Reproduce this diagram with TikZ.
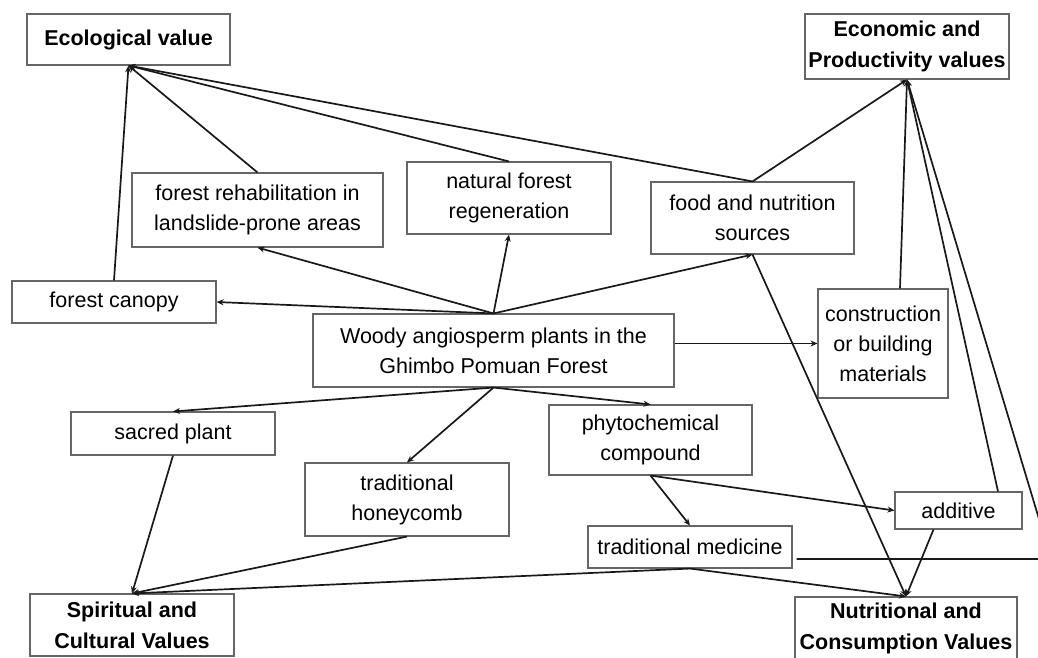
\documentclass[tikz,border=0pt]{standalone}
\usepackage{fontspec}
\setmainfont{Liberation Sans}
\usetikzlibrary{arrows.meta,calc}
\begin{document}
\begin{tikzpicture}[x=1pt,y=-1pt,
  box/.style={draw=black!60,line width=1.1pt,fill=white,align=center,inner sep=0pt,
    font=\fontsize{21.5}{30}\selectfont},
  hbox/.style={box,font=\fontsize{21.5}{31}\selectfont\bfseries},
  link/.style={line width=1.7pt,draw=black!90},
  arr/.style={link,-{Stealth[length=7pt,width=6pt]}}]
\useasboundingbox (0,0) rectangle (1038,657);
\clip (0,0) rectangle (1038,657);
% nodes
\node[hbox,minimum width=203pt,minimum height=51pt] (eco) at (128.5,39.5) {Ecological value};
\node[hbox,minimum width=204pt,minimum height=65pt] (econ) at (907,46.5) {Economic and\\Productivity values};
\node[box,minimum width=251pt,minimum height=74pt] (rehab) at (257.5,210) {forest rehabilitation in\\landslide-prone areas};
\node[box,minimum width=204pt,minimum height=72pt] (regen) at (509,198) {natural forest\\regeneration};
\node[box,minimum width=203pt,minimum height=72pt] (food) at (752.5,218) {food and nutrition\\sources};
\node[box,minimum width=204pt,minimum height=42pt] (canopy) at (114,302) {forest canopy};
\node[box,minimum width=361pt,minimum height=73pt] (woody) at (493.5,350.5) {Woody angiosperm plants in the\\Ghimbo Pomuan Forest};
\node[box,minimum width=130pt,minimum height=109pt] (constr) at (883,343.5) {construction\\or building\\materials};
\node[box,minimum width=204pt,minimum height=43pt] (sacred) at (173,433.5) {sacred plant};
\node[box,minimum width=204pt,minimum height=73pt] (honey) at (407,499.5) {traditional\\honeycomb};
\node[box,minimum width=203pt,minimum height=70pt] (phyto) at (650.5,440) {phytochemical\\compound};
\node[box,minimum width=204pt,minimum height=42pt] (tmed) at (690,547) {traditional medicine};
\node[box,minimum width=127pt,minimum height=37pt] (additive) at (958.5,510.5) {additive};
\node[hbox,minimum width=204pt,minimum height=62pt] (spirit) at (132,625) {Spiritual and\\Cultural Values};
\node[hbox,minimum width=222pt,minimum height=62pt] (nutri) at (906,628) {Nutritional and\\Consumption Values};
\coordinate (bend) at (1051,559);
% from the central node
\draw[arr] (woody.north) -- (canopy.east);
\draw[arr] (woody.north) -- (rehab.south);
\draw[arr] (woody.north) -- (regen.south);
\draw[arr] (woody.north) -- (food.south);
\draw[arr] ($(woody.east)+(0,-7)$) -- (constr.west);
\draw[arr] (woody.south) -- (sacred.north);
\draw[arr] (woody.south) -- (honey.north);
\draw[arr] (woody.south) -- (phyto.north);
\draw[arr] (phyto.south) -- (tmed.north);
\draw[arr] (phyto.south) -- (additive.west);
% to ecological value
\draw[arr] (canopy.north) -- (eco.south);
\draw[arr] (rehab.north) -- (eco.south);
\draw[arr] (regen.north) -- (eco.south);
\draw[arr] (food.north) -- (eco.south);
% to economic value
\draw[arr] (food.north) -- (econ.south);
\draw[arr] ($(constr.north)+(17,0)$) -- (econ.south);
\draw[arr] ($(additive.north)+(39.5,0)$) -- (econ.south);
\draw[arr] ($(tmed.east)+(4,12)$) -- (bend) -- (econ.south);
% to nutritional value
\draw[arr] (food.south) -- (nutri.north);
\draw[arr] ($(additive.south)+(-25,0)$) -- (nutri.north);
\draw[arr] (tmed.south) -- (nutri.north);
% to spiritual value
\draw[arr] (sacred.south) -- (spirit.north);
\draw[arr] (honey.south) -- (spirit.north);
\draw[arr] (tmed.south) -- (spirit.north);
\end{tikzpicture}
\end{document}
